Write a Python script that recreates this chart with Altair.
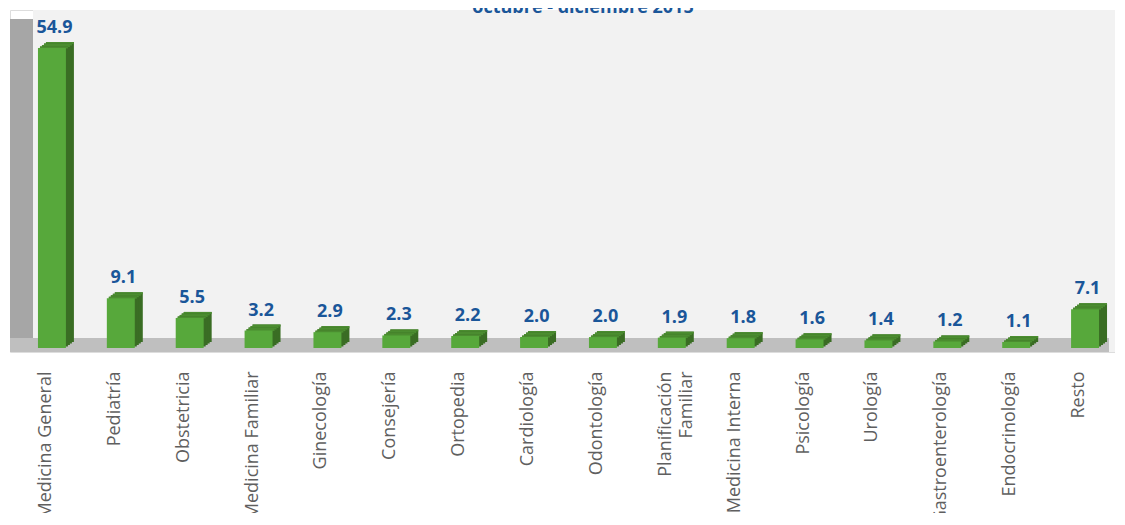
import altair as alt
import pandas as pd

categories = ["Medicina General", "Pediatría", "Obstetricia", "Medicina Familiar",
              "Ginecología", "Consejería", "Ortopedia", "Cardiología", "Odontología",
              "Planificación|Familiar", "Medicina Interna", "Psicología", "Urología",
              "Gastroenterología", "Endocrinología", "Resto"]
values = [54.9, 9.1, 5.5, 3.2, 2.9, 2.3, 2.2, 2.0, 2.0, 1.9, 1.8, 1.6, 1.4, 1.2, 1.1, 7.1]
title_text = ["octubre - diciembre 2015"]

df = pd.DataFrame({"cat": categories, "v": values})

W, H = 1105, 342
FRONT = "#57a83b"
SIDE = "#3a6d24"
TOP = "#4b8d30"
BLUE = "#1a5699"

y_scale = alt.Scale(domain=[-0.732, 61.85], nice=False, zero=False)
x_scale = alt.Scale(domain=categories, paddingInner=0.5941, paddingOuter=0.3189)

x_axis = alt.Axis(title=None, labelAngle=270, labelAlign="right", labelBaseline="middle",
                  labelPadding=19, ticks=False, domain=False, grid=False,
                  labelFont="Open Sans", labelFontSize=18, labelColor="#5f5f5f",
                  labelLimit=400, labelOverlap=False,
                  labelExpr="split(datum.label, '|')", labelLineHeight=21)

def xenc():
    return alt.X("cat:N", sort=categories, scale=x_scale, axis=x_axis)

# decorative walls and floor
back_df = pd.DataFrame({"top": [61.85], "bot": [-0.732]})
back_wall = alt.Chart(back_df).mark_rect(color="#f2f2f2").encode(
    x=alt.value(23), x2=alt.value(W),
    y=alt.Y("top:Q", scale=y_scale, axis=None), y2="bot:Q")
walls = pd.DataFrame({"top": [60.2], "bot": [-0.732]})
left_wall = alt.Chart(walls).mark_rect(color="#a6a6a6").encode(
    x=alt.value(0), x2=alt.value(23),
    y=alt.Y("top:Q", scale=y_scale, axis=None), y2="bot:Q")
floor_df = pd.DataFrame({"top": [1.83], "bot": [-0.732]})
floor = alt.Chart(floor_df).mark_rect(color="#bfbfbf").encode(
    x=alt.value(0), x2=alt.value(W - 6),
    y=alt.Y("top:Q", scale=y_scale, axis=None), y2="bot:Q")

base = alt.Chart(df)
front = base.mark_bar(color=FRONT, xOffset=6).encode(
    x=xenc(), y=alt.Y("v:Q", scale=y_scale, axis=None))

layers = [front, back_wall, left_wall, floor]

# extruded 3D side/top built from slices
for k in [4, 3, 2, 1]:
    layers.append(base.mark_bar(color=SIDE, xOffset=6 + 2 * k, yOffset=-1.5 * k,
                                y2Offset=-1.5 * k).encode(
        x=xenc(), y=alt.Y("v:Q", scale=y_scale, axis=None)))
    layers.append(base.mark_bar(color=TOP, xOffset=6 + 2 * k, yOffset=-1.5 * k,
                                y2Offset=-1.5 * (k - 1) + 0.5).encode(
        x=xenc(), y=alt.Y("v:Q", scale=y_scale, axis=None), y2=alt.Y2("v:Q")))

layers.append(front)

labels = base.mark_text(dx=8.5, dy=-15, baseline="alphabetic", align="center",
                        font="Open Sans", fontWeight="bold", fontSize=18, color=BLUE).encode(
    x=xenc(), y=alt.Y("v:Q", scale=y_scale, axis=None),
    text=alt.Text("v:Q", format=".1f"))
layers.append(labels)

title = alt.Chart(pd.DataFrame({"t": title_text})).mark_text(
    baseline="alphabetic", align="center", font="Open Sans", fontWeight="bold",
    fontSize=18, color=BLUE).encode(x=alt.value(573), y=alt.value(3), text="t:N")
layers.append(title)

chart = alt.layer(*layers).properties(
    width=W, height=H,
    autosize=alt.AutoSizeParams(type="none"),
    padding={"left": 2, "top": 2, "right": 0, "bottom": 161},
).configure_view(stroke=None).configure(background="white")

chart.save("out.html", embed_options={"renderer": "svg", "actions": False})
